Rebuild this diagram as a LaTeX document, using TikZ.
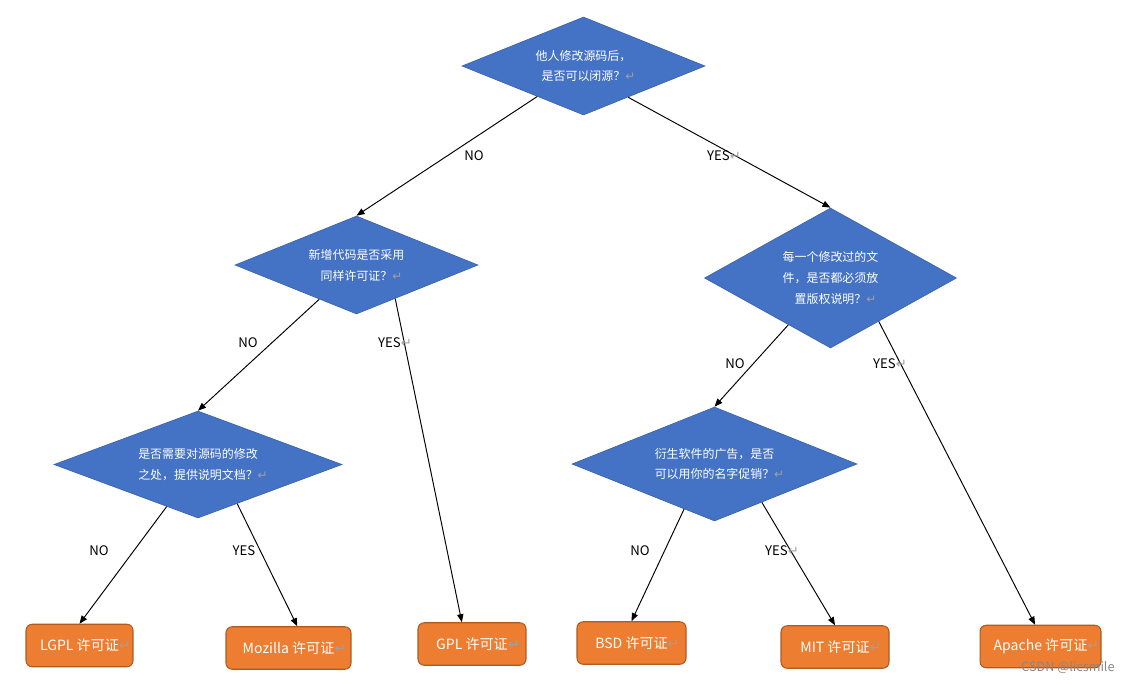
\documentclass[tikz,border=0pt]{standalone}
\usepackage{fontspec}
\setmainfont{Noto Sans CJK SC}
\newfontfamily\arrowfont{DejaVu Sans}
\usetikzlibrary{arrows.meta, shapes.geometric}
\definecolor{DiaBlue}{RGB}{68, 114, 196}
\definecolor{DiaEdge}{RGB}{60, 100, 175}
\definecolor{BoxOrange}{RGB}{237, 125, 49}
\definecolor{BoxEdge}{RGB}{174, 90, 33}
\definecolor{MarkGray}{RGB}{160, 160, 160}
\definecolor{WaterGray}{RGB}{135, 135, 135}
\newcommand{\pmark}{\rlap{\textcolor{MarkGray}{\arrowfont ↵}}}

\begin{document}
\begin{tikzpicture}[x=0.02cm, y=-0.02cm,
    decision/.style={diamond, fill=DiaBlue, draw=DiaEdge, line width=0.4pt, inner sep=0pt,
        text=white, align=center, font=\fontsize{6.8}{11.9}\selectfont},
    licence/.style={rectangle, rounded corners=3.5pt, fill=BoxOrange, draw=BoxEdge,
        line width=0.6pt, text=white, minimum height=0.85cm, font=\fontsize{8}{9}\selectfont},
    flow/.style={-{Triangle[length=4.6pt, width=3.6pt]}, line width=0.55pt},
    answer/.style={font=\fontsize{7.5}{9}\selectfont}]
    \useasboundingbox (0,0) rectangle (1131,684);

    % Questions
    \node[decision, shape aspect=2.48, minimum width=4.86cm, minimum height=1.96cm] (top) at (583.5,66)
        {他人修改源码后，\\是否可以闭源？\pmark};
    \node[decision, shape aspect=2.48, minimum width=4.86cm, minimum height=1.96cm] (same) at (356.5,265)
        {新增代码是否采用\\同样许可证？\pmark};
    \node[decision, shape aspect=1.8, minimum width=5.04cm, minimum height=2.8cm] (notice) at (830.5,278)
        {每一个修改过的文\\件，是否都必须放\\置版权说明？\pmark};
    \node[decision, shape aspect=2.69, minimum width=5.76cm, minimum height=2.14cm] (docs) at (198,464.5)
        {是否需要对源码的修改\\之处，提供说明文档？\pmark};
    \node[decision, shape aspect=2.5, minimum width=5.7cm, minimum height=2.28cm] (promo) at (714.5,464)
        {衍生软件的广告，是否\\可以用你的名字促销？\pmark};

    % Licences
    \foreach \name/\px/\py/\bw/\lic in {lgpl/79.5/645.5/2.14/LGPL, mozilla/288.5/648/2.5/Mozilla,
        gpl/472/644/2.16/GPL, bsd/631.5/643/2.18/BSD, mit/835/647/2.16/MIT, apache/1040.5/646.5/2.42/Apache} {
        \node[licence, minimum width=\bw cm] (\name) at (\px,\py) {\lic\ 许可证\pmark};
    }

    % Connectors
    \foreach \from/\to in {top/same.north, top.-35/notice.north, same/docs.north, same.-41/gpl.115,
        notice/promo.north, notice.-42/apache.104, docs/lgpl.north, docs.-45/mozilla.68,
        promo.-124/bsd.north, promo.-39/mit.north} {
        \draw[flow] (\from) -- (\to);
    }

    % Answers
    \node[answer] (no1) at (474,156) {NO};
    \node[answer, anchor=west] (yes1) at (701,156) {YES\pmark};
    \node[answer] (no2) at (248,343) {NO};
    \node[answer, anchor=west] (yes2) at (372,343) {YES\pmark};
    \node[answer] (no3) at (735,364) {NO};
    \node[answer, anchor=west] (yes3) at (867,364) {YES\pmark};
    \node[answer] (no4) at (99,551) {NO};
    \node[answer] (yes4) at (244,551) {YES};
    \node[answer] (no5) at (640,551) {NO};
    \node[answer, anchor=west] (yes5) at (759,551) {YES\pmark};

    \node[font=\fontsize{7.2}{8}\selectfont, text=WaterGray] (mark) at (1068,668) {CSDN @licsmile};
\end{tikzpicture}
\end{document}
